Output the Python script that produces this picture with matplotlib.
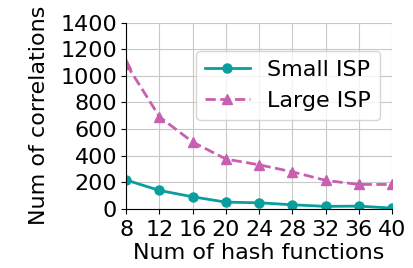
import numpy as np
import matplotlib
matplotlib.use("Agg")
import matplotlib.pyplot as plt

hash_funcs = [8, 12, 16, 20, 24, 28, 32, 36, 40]
small_isp = [216, 138, 90, 50, 45, 30, 18, 20, 5]
large_isp = [1090, 692, 502, 374, 331, 278, 214, 183, 183]

plt.rcParams['font.size'] = 16

fig, ax = plt.subplots(figsize=(4.14, 2.68), dpi=100)
ax.plot(hash_funcs, small_isp, '-o', color='#0a9e9e', lw=2, ms=6.5, label='Small ISP')
ax.plot(hash_funcs, large_isp, '--^', color='#c95fb0', lw=2, ms=7.5, label='Large ISP')

ax.set_xlim(8, 40)
ax.set_ylim(0, 1400)
ax.set_xticks(hash_funcs)
ax.set_yticks(np.arange(0, 1401, 200))
ax.tick_params(axis='x', pad=4.5)
ax.tick_params(axis='y', pad=3)
ax.set_xlabel('Num of hash functions', labelpad=2)
ax.set_ylabel('Num of correlations', labelpad=8)
ax.grid(True, color='#c8c8c8', lw=0.8)
ax.spines['top'].set_visible(False)
ax.spines['right'].set_visible(False)
ax.legend(loc='upper right', bbox_to_anchor=(0.955, 0.848), borderaxespad=0,
          fontsize=16, handlelength=2.0)

fig.subplots_adjust(left=0.305, right=0.947, top=0.915, bottom=0.221)
fig.savefig('out.png')
